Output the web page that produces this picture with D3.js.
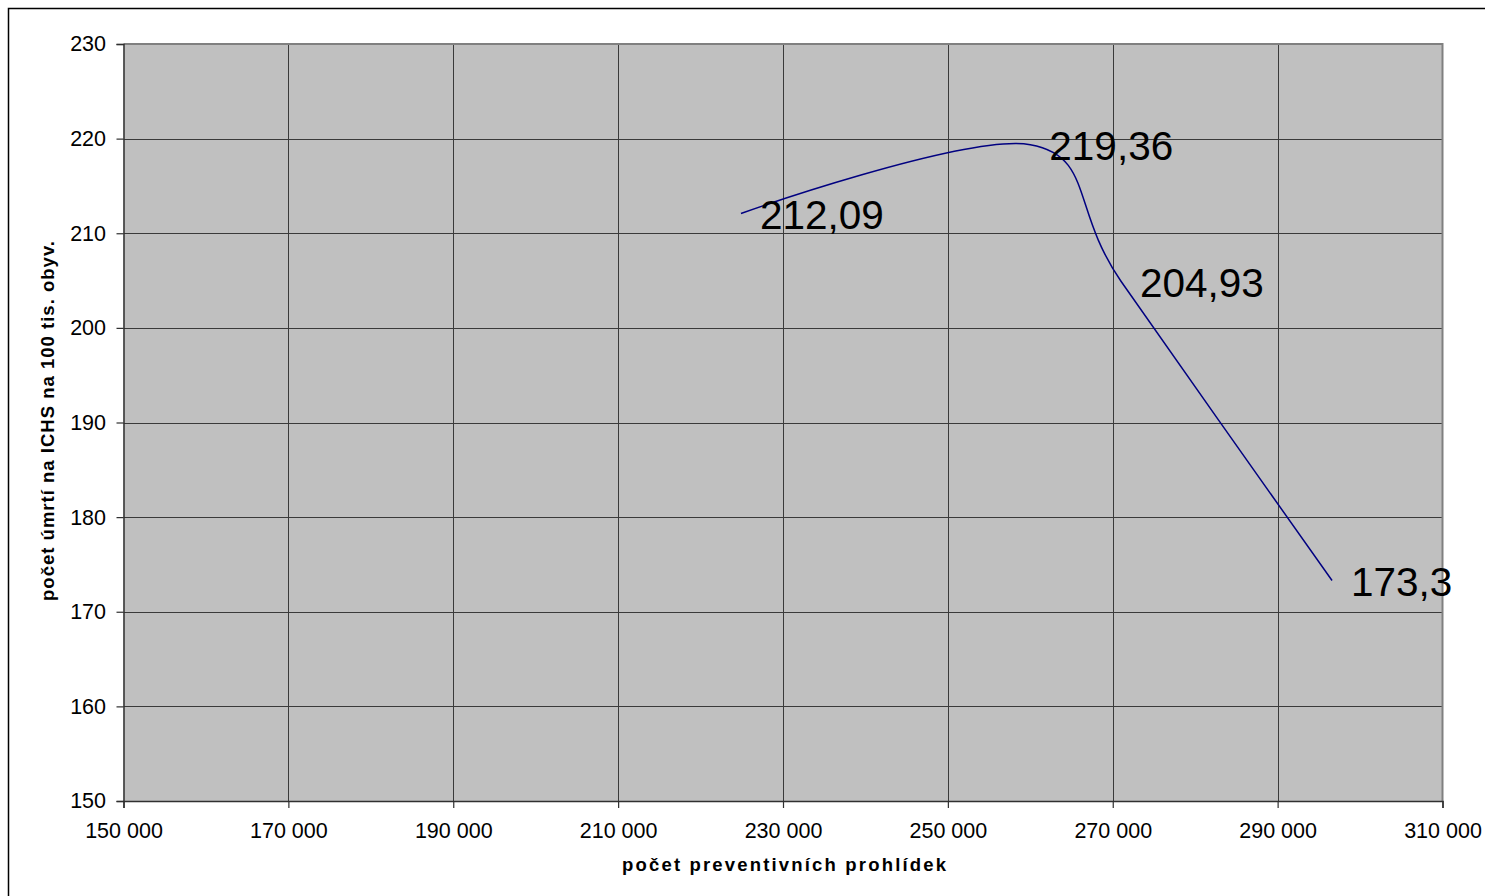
<!DOCTYPE html>
<html>
<head>
<meta charset="utf-8">
<script src="https://cdn.jsdelivr.net/npm/d3@7"></script>
<style>
  html, body { margin: 0; padding: 0; background: #fff; }
  svg { display: block; }
  text { font-family: "Liberation Sans", Arial, sans-serif; fill: #000; }
</style>
</head>
<body>
<svg id="chart" width="1485" height="896"></svg>
<script>
// Preventive check-ups vs. ICHS deaths per 100k inhabitants
const checkups = [224900, 260000, 271000, 296600];
const deaths   = [212.09, 219.36, 204.93, 173.3];
const valueLabels = ["212,09", "219,36", "204,93", "173,3"];
const xTicks = [150000, 170000, 190000, 210000, 230000, 250000, 270000, 290000, 310000];
const yTicks = [150, 160, 170, 180, 190, 200, 210, 220, 230];
const xTitle = "počet preventivních prohlídek";
const yTitle = "počet úmrtí na ICHS na 100 tis. obyv.";

const svg = d3.select("#chart");
const W = 1485, H = 896;
const plot = { left: 123.5, right: 1442.5, top: 44, bottom: 801 };

const x = d3.scaleLinear().domain([150000, 310000]).range([plot.left, plot.right]);
const y = d3.scaleLinear().domain([150, 230]).range([plot.bottom, plot.top]);

// outer chart frame
svg.append("rect")
  .attr("x", 8.5).attr("y", 8.5)
  .attr("width", W + 10).attr("height", H + 10)
  .attr("fill", "none").attr("stroke", "#000").attr("stroke-width", 1.5);

// plot background
svg.append("rect")
  .attr("x", plot.left).attr("y", plot.top)
  .attr("width", plot.right - plot.left).attr("height", plot.bottom - plot.top)
  .attr("fill", "#c0c0c0");

// gridlines
const grid = svg.append("g").attr("stroke", "#3a3a3a").attr("stroke-width", 1);
grid.selectAll("line.h").data(yTicks.slice(1, -1)).join("line")
  .attr("x1", plot.left).attr("x2", plot.right)
  .attr("y1", d => Math.round(y(d)) + 0.5).attr("y2", d => Math.round(y(d)) + 0.5);
grid.selectAll("line.v").data(xTicks.slice(1, -1)).join("line")
  .attr("y1", plot.top).attr("y2", plot.bottom)
  .attr("x1", d => Math.round(x(d)) + 0.5).attr("x2", d => Math.round(x(d)) + 0.5);

// plot border (top & right)
svg.append("path")
  .attr("d", `M${plot.left},${plot.top} H${plot.right} V${plot.bottom}`)
  .attr("fill", "none").attr("stroke", "#808080").attr("stroke-width", 2);

// axes
const xAxis = d3.axisBottom(x).tickValues(xTicks).tickSize(7).tickPadding(15)
  .tickFormat(d => d3.format(",")(d).replace(/,/g, " "));
const gx = svg.append("g").attr("transform", `translate(0,${plot.bottom})`).call(xAxis);
gx.select(".domain").attr("stroke", "#303030").attr("stroke-width", 1.5);
gx.selectAll(".tick line").attr("stroke", "#303030").attr("stroke-width", 1.2);
gx.selectAll(".tick text").attr("font-size", 21.5).attr("font-family", "Liberation Sans, Arial, sans-serif")
  .attr("dy", "0.71em").attr("fill", "#000");

const yAxis = d3.axisLeft(y).tickValues(yTicks).tickSize(7).tickPadding(10.5);
const gy = svg.append("g").attr("transform", `translate(${plot.left},0)`).call(yAxis);
gy.select(".domain").attr("stroke", "#303030").attr("stroke-width", 1.5);
gy.selectAll(".tick line").attr("stroke", "#303030").attr("stroke-width", 1.2);
gy.selectAll(".tick text").attr("font-size", 21.5).attr("font-family", "Liberation Sans, Arial, sans-serif")
  .attr("fill", "#000");

// smoothed series line
const pts = checkups.map((c, i) => [c, deaths[i]]);
const line = d3.line().x(d => x(d[0])).y(d => y(d[1])).curve(d3.curveCardinal.tension(0));
svg.append("path").datum(pts)
  .attr("d", line)
  .attr("fill", "none").attr("stroke", "#000080").attr("stroke-width", 1.5);

// value labels
svg.selectAll("text.val").data(pts).join("text")
  .attr("class", "val")
  .attr("x", d => x(d[0]) + 19)
  .attr("y", d => y(d[1]) + 15.5)
  .attr("font-size", 40.5)
  .text((d, i) => valueLabels[i]);

// axis titles
svg.append("text")
  .attr("x", 784).attr("y", 871)
  .attr("text-anchor", "middle")
  .attr("font-size", 18.5).attr("font-weight", "bold")
  .attr("textLength", 324).attr("lengthAdjust", "spacing")
  .text(xTitle);

svg.append("text")
  .attr("transform", "translate(54,421) rotate(-90)")
  .attr("text-anchor", "middle")
  .attr("font-size", 18.5).attr("font-weight", "bold")
  .attr("textLength", 360).attr("lengthAdjust", "spacing")
  .text(yTitle);
</script>
</body>
</html>
